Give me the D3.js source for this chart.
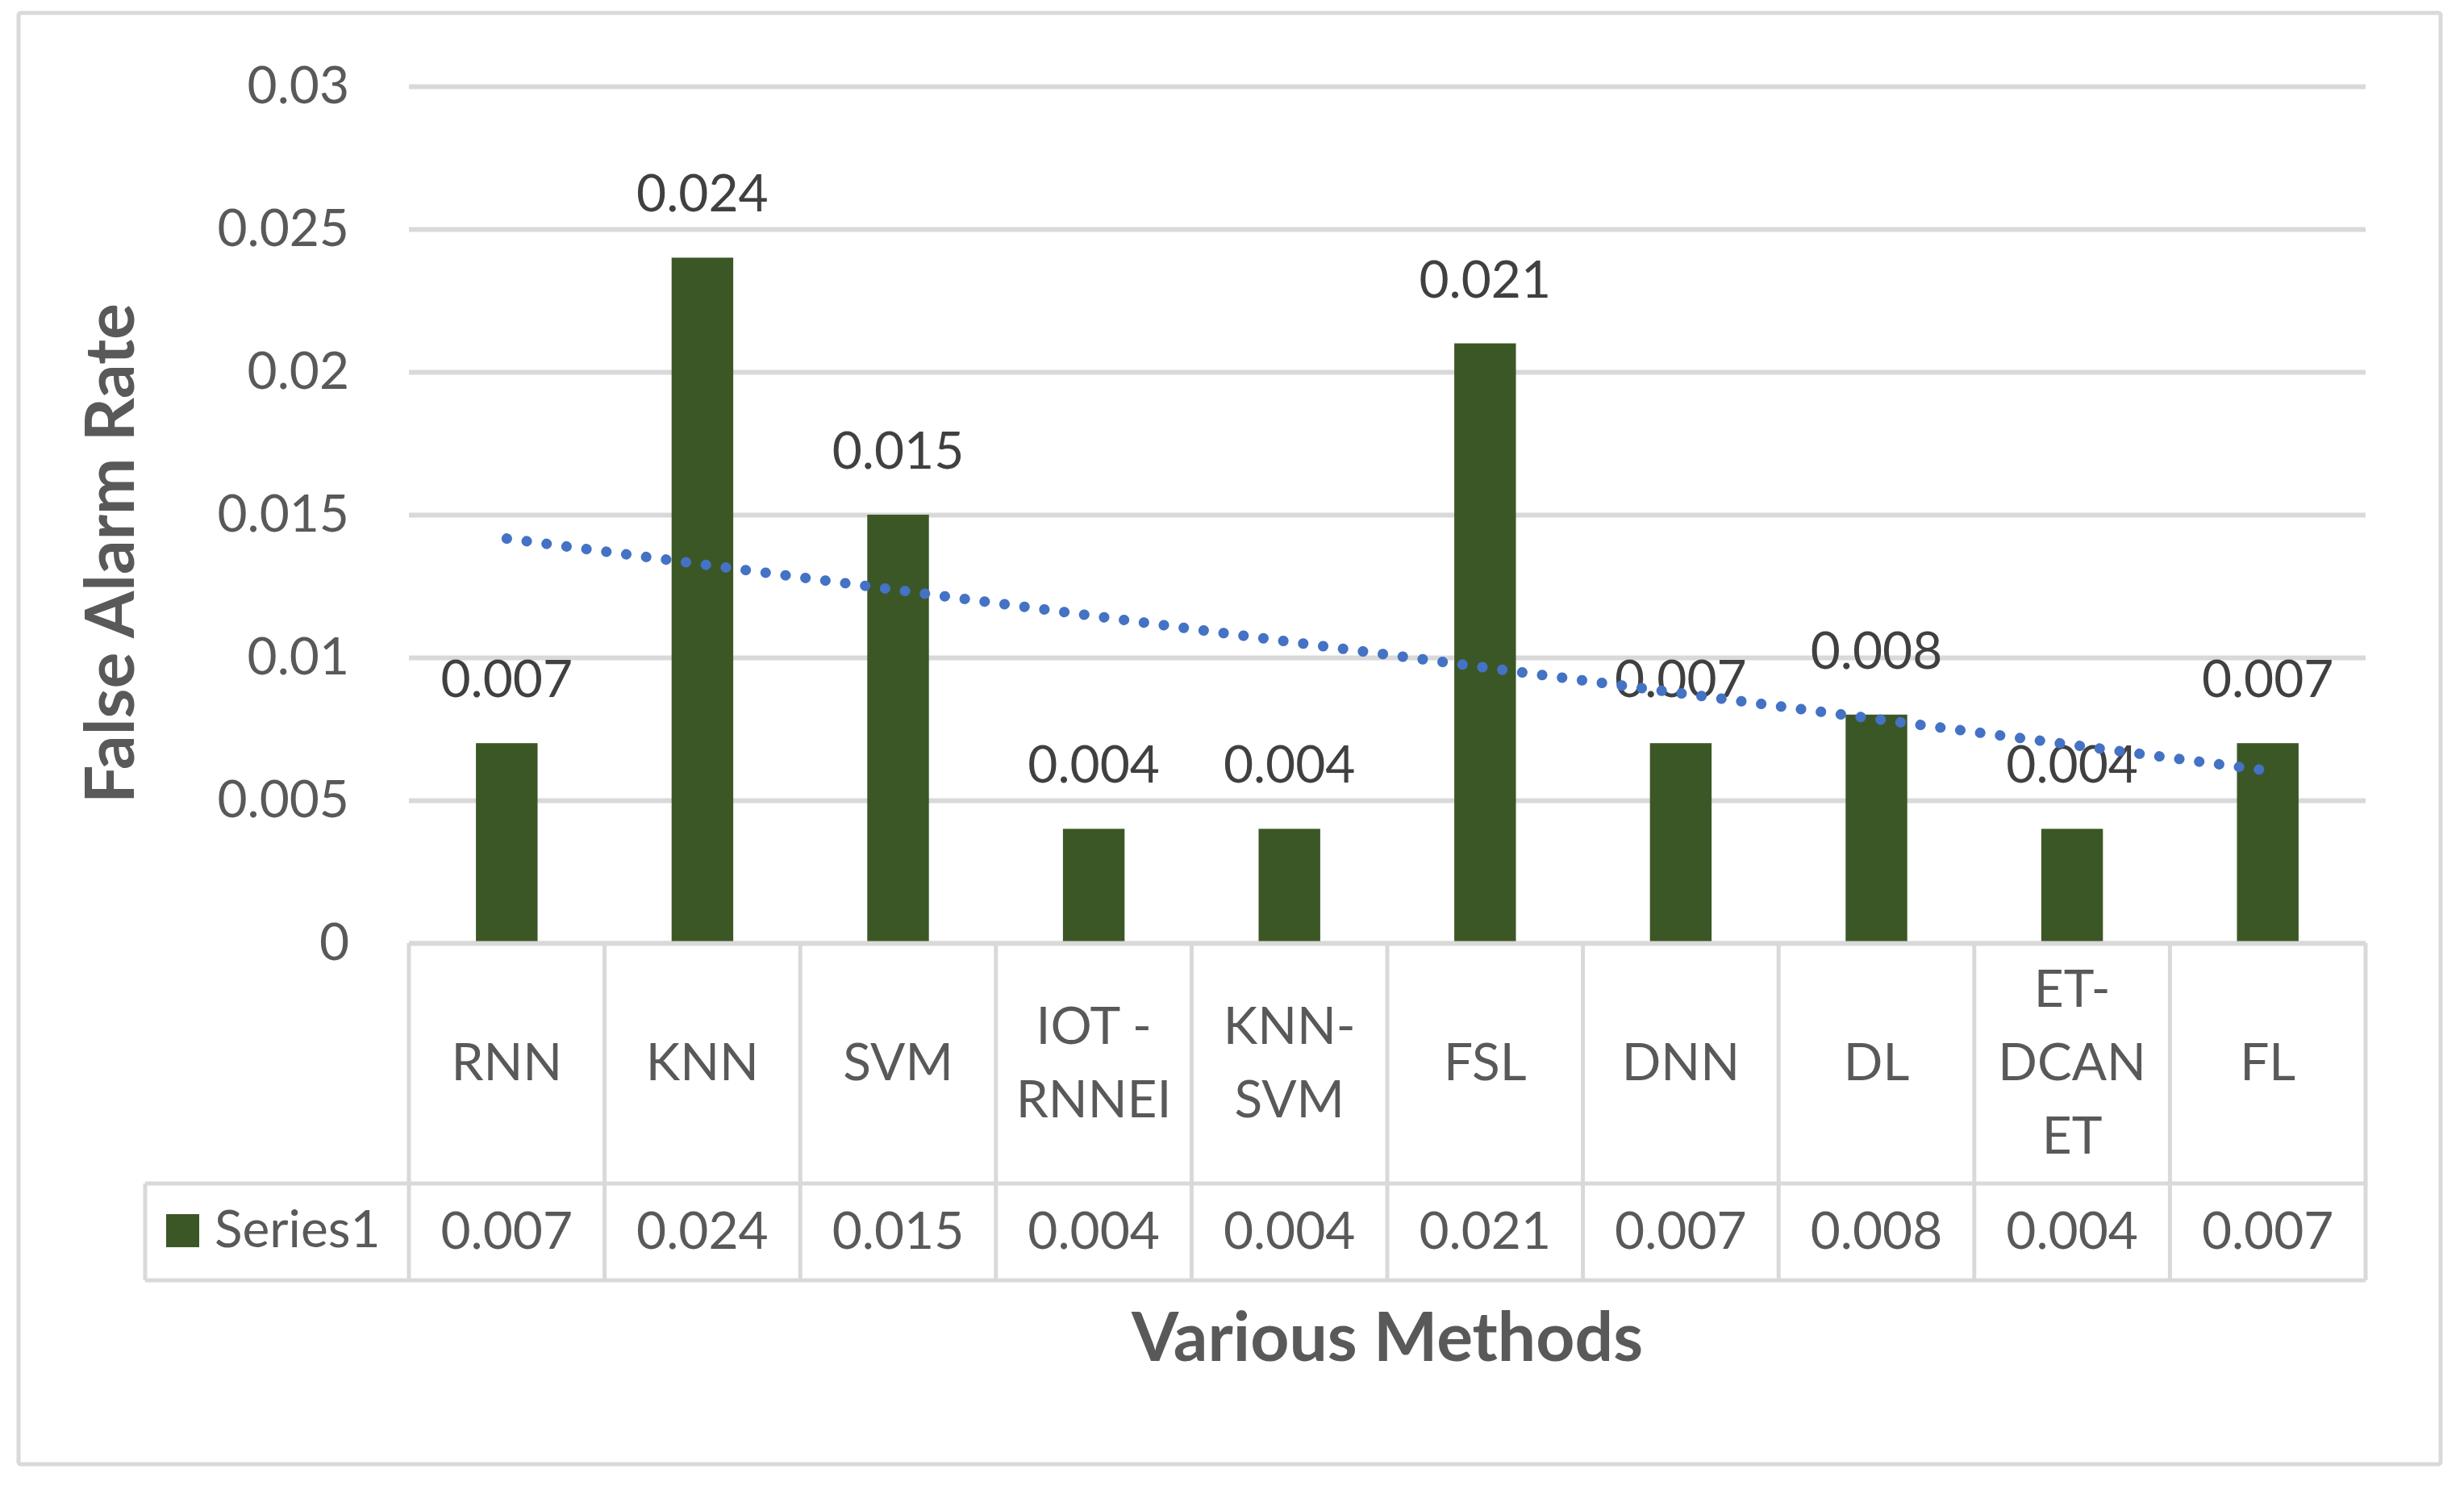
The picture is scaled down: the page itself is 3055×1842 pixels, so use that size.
<!DOCTYPE html>
<html>
<head>
<meta charset="utf-8">
<script src="https://cdn.jsdelivr.net/npm/d3@7"></script>
<style>
  body { margin: 0; background: #ffffff; }
  text { font-family: Lato, "Open Sans", sans-serif; }
</style>
</head>
<body>
<svg id="chart"></svg>
<script>
// Section for Data
var categories = ["RNN", "KNN", "SVM", "IOT -RNNEI", "KNN-SVM", "FSL", "DNN", "DL", "ET-DCANET", "FL"];
var categoryLines = [["RNN"], ["KNN"], ["SVM"], ["IOT -", "RNNEI"], ["KNN-", "SVM"], ["FSL"], ["DNN"], ["DL"], ["ET-", "DCAN", "ET"], ["FL"]];
var series1 = [0.007, 0.024, 0.015, 0.004, 0.004, 0.021, 0.007, 0.008, 0.004, 0.007];
var valueLabels = ["0.007", "0.024", "0.015", "0.004", "0.004", "0.021", "0.007", "0.008", "0.004", "0.007"];
var tickValues = [0, 0.005, 0.01, 0.015, 0.02, 0.025, 0.03];
var tickLabels = ["0", "0.005", "0.01", "0.015", "0.02", "0.025", "0.03"];
var seriesName = "Series1";

// Section for dimensions
var width = 3055, height = 1842;
var plotLeft = 507, plotRight = 2933, plotTop = 107, plotBottom = 1169;
var labelRowBottom = 1467, valueRowBottom = 1587, legendLeft = 180;
var gridColor = "#d9d9d9", textColor = "#595959", labelColor = "#404040";
var barColor = "#3b5726", trendColor = "#4472c4";

var svg = d3.select("#chart")
    .attr("width", width)
    .attr("height", height);

svg.append("rect")
    .attr("width", width).attr("height", height)
    .attr("fill", "#ffffff");

// outer chart border
svg.append("rect")
    .attr("x", 23).attr("y", 16)
    .attr("width", 3003).attr("height", 1799)
    .attr("rx", 3)
    .attr("fill", "none")
    .attr("stroke", gridColor)
    .attr("stroke-width", 5);

// scales
var x = d3.scaleBand()
    .domain(categories)
    .range([plotLeft, plotRight])
    .paddingInner(0).paddingOuter(0);

var y = d3.scaleLinear()
    .domain([0, 0.03])
    .range([plotBottom, plotTop]);

var barWidth = x.bandwidth() * 0.315;

// gridlines
var grid = svg.append("g")
    .attr("transform", "translate(" + plotLeft + ",0)")
    .call(d3.axisLeft(y).tickValues(tickValues).tickSize(-(plotRight - plotLeft)).tickFormat(""));
grid.select(".domain").remove();
grid.selectAll(".tick line")
    .attr("stroke", gridColor)
    .attr("stroke-width", 6);

// y axis labels
var yAxis = svg.append("g")
    .attr("transform", "translate(433,0)")
    .call(d3.axisLeft(y).tickValues(tickValues).tickSize(0).tickPadding(0)
        .tickFormat(function (d, i) { return tickLabels[i]; }));
yAxis.select(".domain").remove();
yAxis.selectAll(".tick text")
    .attr("fill", textColor)
    .style("font-size", "64px")
    .style("font-family", "Lato, 'Open Sans', sans-serif");

// bars
svg.selectAll("rect.bar")
    .data(series1)
    .enter().append("rect")
    .attr("class", "bar")
    .attr("x", function (d, i) { return x(categories[i]) + (x.bandwidth() - barWidth) / 2; })
    .attr("y", function (d) { return y(d); })
    .attr("width", barWidth)
    .attr("height", function (d) { return plotBottom - y(d); })
    .attr("fill", barColor);

// data labels
svg.selectAll("text.value")
    .data(series1)
    .enter().append("text")
    .attr("class", "value")
    .attr("x", function (d, i) { return x(categories[i]) + x.bandwidth() / 2; })
    .attr("y", function (d) { return y(d) - 57; })
    .attr("text-anchor", "middle")
    .attr("fill", labelColor)
    .style("font-size", "64px")
    .text(function (d, i) { return valueLabels[i]; });

// linear trendline (least squares over the series)
var n = series1.length;
var xs = d3.range(1, n + 1);
var mx = d3.mean(xs), my = d3.mean(series1);
var slope = d3.sum(xs, function (v, i) { return (v - mx) * (series1[i] - my); }) /
    d3.sum(xs, function (v) { return (v - mx) * (v - mx); });
var trend = [0, n - 1].map(function (i) {
    return [x(categories[i]) + x.bandwidth() / 2, y(my + slope * (xs[i] - mx))];
});
svg.append("path")
    .attr("d", d3.line()(trend))
    .attr("fill", "none")
    .attr("stroke", trendColor)
    .attr("stroke-width", 13)
    .attr("stroke-linecap", "round")
    .attr("stroke-dasharray", "0.1 24.8");

// data table
var table = svg.append("g").attr("stroke", gridColor).attr("stroke-width", 5);
table.append("line").attr("x1", plotLeft).attr("x2", plotRight).attr("y1", plotBottom).attr("y2", plotBottom);
table.append("line").attr("x1", legendLeft).attr("x2", plotRight).attr("y1", labelRowBottom).attr("y2", labelRowBottom);
table.append("line").attr("x1", legendLeft).attr("x2", plotRight).attr("y1", valueRowBottom).attr("y2", valueRowBottom);
table.append("line").attr("x1", legendLeft).attr("x2", legendLeft).attr("y1", labelRowBottom).attr("y2", valueRowBottom);
table.selectAll("line.sep")
    .data(categories.concat(["end"]))
    .enter().append("line")
    .attr("class", "sep")
    .attr("x1", function (d, i) { return i < n ? x(d) : plotRight; })
    .attr("x2", function (d, i) { return i < n ? x(d) : plotRight; })
    .attr("y1", plotBottom)
    .attr("y2", valueRowBottom);

// category labels
var lineHeight = 91;
svg.selectAll("text.cat")
    .data(categoryLines)
    .enter().append("text")
    .attr("class", "cat")
    .attr("text-anchor", "middle")
    .attr("fill", textColor)
    .style("font-size", "64px")
    .each(function (lines, i) {
        var cx = x(categories[i]) + x.bandwidth() / 2;
        var first = 1339 - (lines.length - 1) * lineHeight / 2;
        d3.select(this).selectAll("tspan")
            .data(lines)
            .enter().append("tspan")
            .attr("x", cx)
            .attr("y", function (l, j) { return first + j * lineHeight; })
            .text(function (l) { return l; });
    });

// table values
svg.selectAll("text.cell")
    .data(series1)
    .enter().append("text")
    .attr("class", "cell")
    .attr("x", function (d, i) { return x(categories[i]) + x.bandwidth() / 2; })
    .attr("y", 1548)
    .attr("text-anchor", "middle")
    .attr("fill", textColor)
    .style("font-size", "64px")
    .text(function (d, i) { return valueLabels[i]; });

// legend key in table
svg.append("rect")
    .attr("x", 206).attr("y", 1505)
    .attr("width", 41).attr("height", 41)
    .attr("fill", barColor);
svg.append("text")
    .attr("x", 266).attr("y", 1546)
    .attr("fill", textColor)
    .style("font-size", "64px")
    .text(seriesName);

// axis titles
svg.append("text")
    .attr("x", 1720).attr("y", 1687)
    .attr("text-anchor", "middle")
    .attr("fill", textColor)
    .style("font-size", "84px")
    .style("font-weight", "bold")
    .text("Various Methods");

svg.append("text")
    .attr("transform", "translate(166,686) rotate(-90)")
    .attr("text-anchor", "middle")
    .attr("fill", textColor)
    .style("font-size", "84px")
    .style("font-weight", "bold")
    .text("False Alarm Rate");
</script>
</body>
</html>
